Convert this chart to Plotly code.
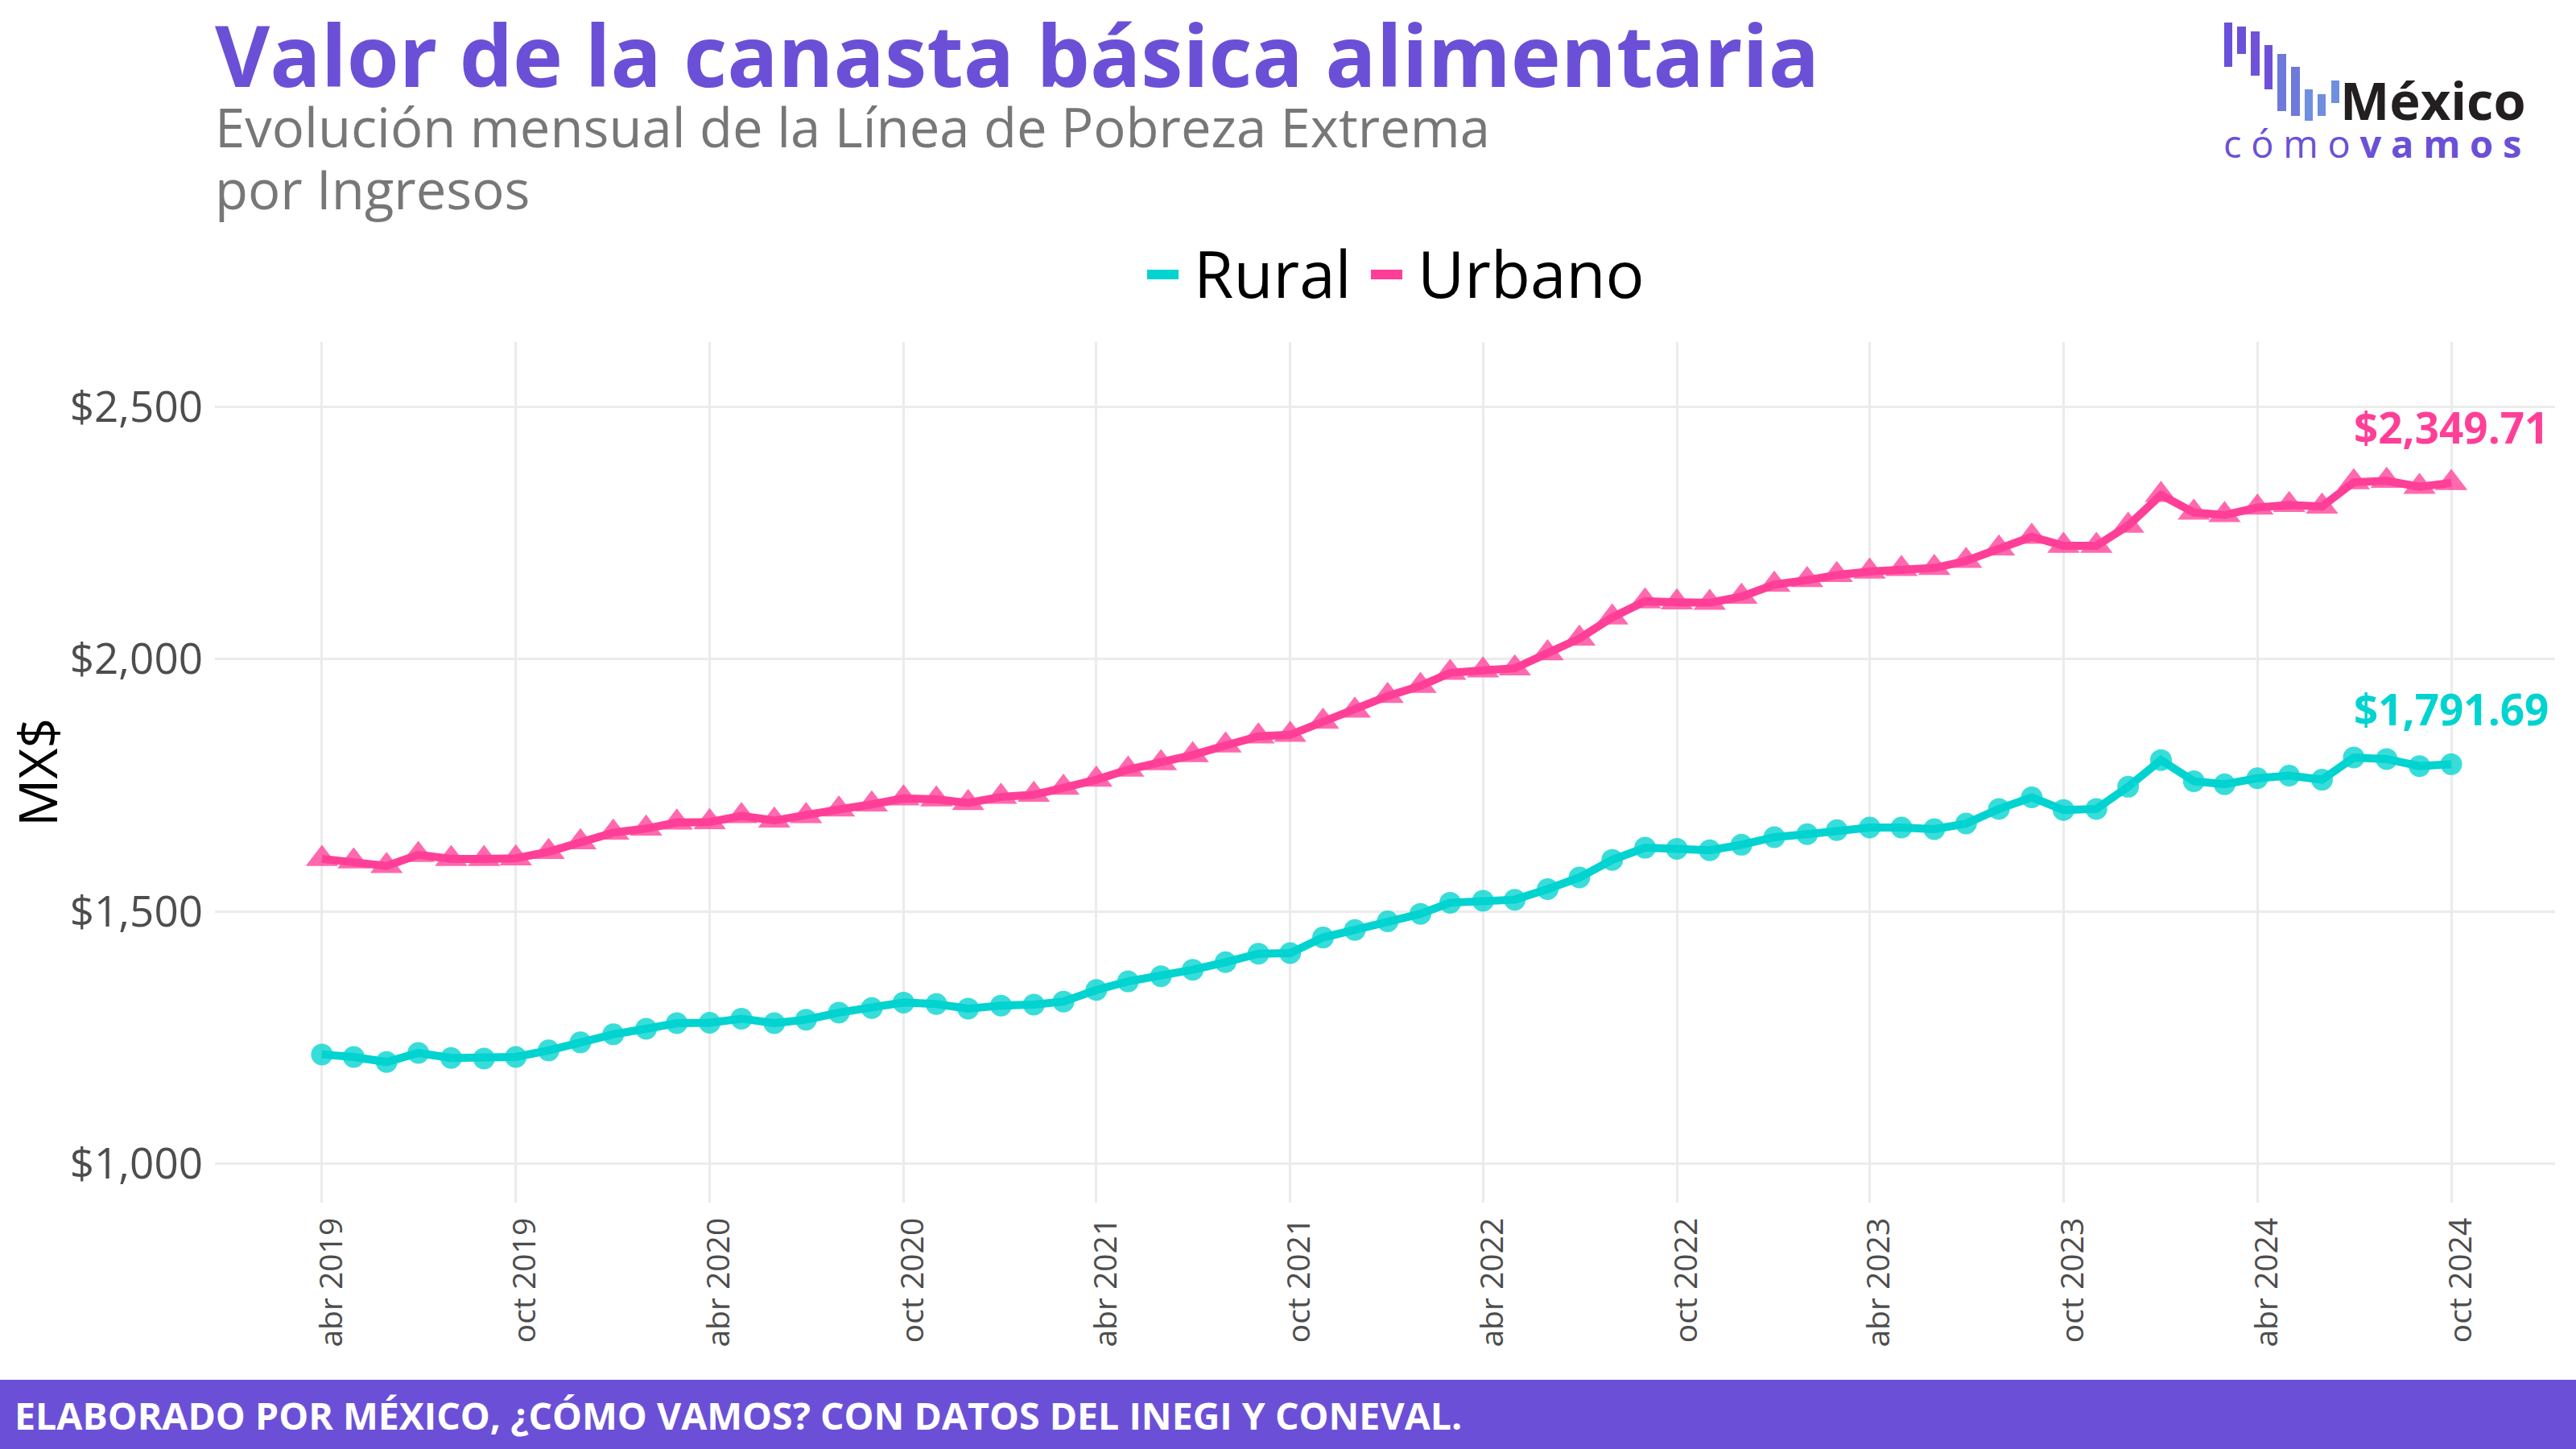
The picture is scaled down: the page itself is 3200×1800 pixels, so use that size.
import pandas as pd
import plotly.graph_objects as go

# ---------------- data ----------------
months = pd.date_range("2019-04-01", periods=67, freq="MS")

rural = [1216, 1211, 1201, 1219, 1209, 1208, 1211, 1224, 1240, 1256,
         1267, 1278, 1279, 1287, 1278, 1285, 1299, 1308, 1319, 1316,
         1307, 1313, 1315, 1321, 1344, 1361, 1371, 1384, 1399, 1416,
         1417, 1448, 1463, 1480, 1495, 1517, 1521, 1523, 1544, 1567,
         1602, 1626, 1624, 1621, 1632, 1647, 1653, 1661, 1666, 1666,
         1663, 1674, 1703, 1726, 1701, 1703, 1747, 1800, 1758, 1752,
         1764, 1769, 1761, 1805, 1802, 1788, 1791.69]

urbano = [1604, 1599, 1590, 1612, 1604, 1604, 1605, 1618, 1637, 1656,
          1664, 1676, 1677, 1689, 1680, 1689, 1702, 1712, 1724, 1722,
          1715, 1727, 1731, 1745, 1761, 1781, 1794, 1810, 1829, 1847,
          1850, 1876, 1898, 1927, 1947, 1973, 1978, 1982, 2012, 2041,
          2083, 2115, 2113, 2112, 2124, 2148, 2157, 2167, 2174, 2179,
          2181, 2195, 2220, 2243, 2225, 2225, 2265, 2326, 2291, 2286,
          2301, 2306, 2303, 2351, 2354, 2342, 2349.71]

series_names = ["Rural", "Urbano"]
tick_labels = ["abr 2019", "oct 2019", "abr 2020", "oct 2020", "abr 2021", "oct 2021",
               "abr 2022", "oct 2022", "abr 2023", "oct 2023", "abr 2024", "oct 2024"]
tick_dates = list(months[::6])
y_ticks = [1000, 1500, 2000, 2500]
y_tick_labels = ["$1,000", "$1,500", "$2,000", "$2,500"]

# ---------------- layout helpers ----------------
W, H = 3200, 1800
X0, X1, Y0, Y1 = 267, 3174, 425, 1494


def px(x):
    return (x - X0) / (X1 - X0)


def py(y):
    return (Y1 - y) / (Y1 - Y0)


TEAL = "#00D3D0"
PINK = "#FF3F97"
PURPLE = "#6B50D7"
FONT = "Open Sans"

fig = go.Figure()
fig.add_trace(go.Scatter(x=months, y=rural, mode="markers", showlegend=False, name=series_names[0],
                         marker=dict(symbol="circle", size=27, color=TEAL, opacity=0.78,
                                     line=dict(width=0))))
fig.add_trace(go.Scatter(x=months, y=urbano, mode="markers", showlegend=False, name=series_names[1],
                         marker=dict(symbol="triangle-up", size=35, color=PINK, opacity=0.78,
                                     line=dict(width=0))))
fig.add_trace(go.Scatter(x=months, y=rural, mode="lines", name=series_names[0], showlegend=False,
                         line=dict(color=TEAL, width=10)))
fig.add_trace(go.Scatter(x=months, y=urbano, mode="lines", name=series_names[1], showlegend=False,
                         line=dict(color=PINK, width=10)))

annotations = []
shapes = []

# end labels
for vals, col in ((rural, TEAL), (urbano, PINK)):
    annotations.append(dict(x=months[-1], y=vals[-1], xref="x", yref="y",
                            text="<b>$" + f"{vals[-1]:,.2f}" + "</b>", showarrow=False,
                            yshift=69, xanchor="center", yanchor="middle",
                            font=dict(family=FONT, size=53, color=col)))

# legend (drawn manually: swatch + text)
for name, col, sx, tx in ((series_names[0], TEAL, 1425, 1481), (series_names[1], PINK, 1703, 1759)):
    shapes.append(dict(type="line", xref="paper", yref="paper", x0=px(sx), x1=px(sx + 39),
                       y0=py(341), y1=py(341), line=dict(color=col, width=12)))
    annotations.append(dict(x=px(tx), y=py(338), xref="paper", yref="paper", xanchor="left",
                            yanchor="middle", showarrow=False, text=name,
                            font=dict(family=FONT, size=80, color="black")))

# title and subtitle
annotations.append(dict(x=px(265), y=py(68), xref="paper", yref="paper", xanchor="left",
                        yanchor="middle", showarrow=False,
                        text="<b>Valor de la canasta básica alimentaria</b>",
                        font=dict(family=FONT, size=105, color=PURPLE)))
annotations.append(dict(x=px(265), y=py(157), xref="paper", yref="paper", xanchor="left",
                        yanchor="middle", showarrow=False,
                        text="Evolución mensual de la Línea de Pobreza Extrema",
                        font=dict(family=FONT, size=67, color="#777777")))
annotations.append(dict(x=px(265), y=py(234), xref="paper", yref="paper", xanchor="left",
                        yanchor="middle", showarrow=False,
                        text="por Ingresos",
                        font=dict(family=FONT, size=67, color="#777777")))

# footer
shapes.append(dict(type="rect", xref="paper", yref="paper", x0=px(0), x1=px(W),
                   y0=py(H), y1=py(1714), fillcolor=PURPLE, line=dict(width=0), layer="above"))
annotations.append(dict(x=px(16), y=py(1758), xref="paper", yref="paper", xanchor="left",
                        yanchor="middle", showarrow=False,
                        text="<b>ELABORADO POR MÉXICO, ¿CÓMO VAMOS? CON DATOS DEL INEGI Y CONEVAL.</b>",
                        font=dict(family=FONT, size=46.5, color="white")))

# logo bars (left, right, top, bottom, colour)
bars = [(2763, 2773, 28, 83, "#6A50DA"), (2779, 2790, 33, 67, "#6D50D9"),
        (2796, 2807, 39, 94, "#6F52D9"), (2813, 2823, 56, 111, "#7050D8"),
        (2829, 2840, 67, 138, "#6E7ADB"), (2846, 2857, 83, 144, "#6E7ADB"),
        (2863, 2873, 111, 150, "#6F90E0"), (2879, 2889, 117, 144, "#6F8EDF"),
        (2896, 2906, 100, 128, "#6F90E0")]
for l, r, t, b, c in bars:
    shapes.append(dict(type="rect", xref="paper", yref="paper", x0=px(l), x1=px(r),
                       y0=py(b), y1=py(t), fillcolor=c, line=dict(width=0)))
annotations.append(dict(x=px(2905), y=py(124), xref="paper", yref="paper", xanchor="left",
                        yanchor="middle", showarrow=False, text="<b>México</b>",
                        font=dict(family=FONT, size=65, color="#231F20")))
SP = "\u2005"
annotations.append(dict(x=px(2760), y=py(178), xref="paper", yref="paper", xanchor="left",
                        yanchor="middle", showarrow=False,
                        text=SP.join("cómo") + SP + "<b>" + SP.join("vamos") + "</b>",
                        font=dict(family=FONT, size=47, color=PURPLE)))

fig.update_layout(
    width=W, height=H,
    margin=dict(l=X0, r=W - X1, t=Y0, b=H - Y1, pad=0, autoexpand=False),
    paper_bgcolor="white", plot_bgcolor="white", showlegend=False,
    annotations=annotations, shapes=shapes,
    xaxis=dict(type="date", range=["2018-12-21", "2025-01-07"], automargin=False,
               tickvals=tick_dates, ticktext=tick_labels, tickangle=-90,
               tickfont=dict(family=FONT, size=39, color="#4D4D4D"),
               showgrid=True, gridcolor="#EBEBEB", gridwidth=2.5,
               zeroline=False, showline=False, ticks="", ticklabelstandoff=10,
               ticklabelshift=12),
    yaxis=dict(range=[922, 2629], automargin=False, tickvals=y_ticks, ticktext=y_tick_labels,
               tickfont=dict(family=FONT, size=53, color="#4D4D4D"),
               showgrid=True, gridcolor="#EBEBEB", gridwidth=3,
               zeroline=False, showline=False, ticks="", ticklabelstandoff=14,
               title=dict(text="MX$", font=dict(family=FONT, size=66, color="black"),
                          standoff=30)),
)

fig.write_html("out.html", config={"displayModeBar": False},
               post_script="document.body.style.margin='0';")
